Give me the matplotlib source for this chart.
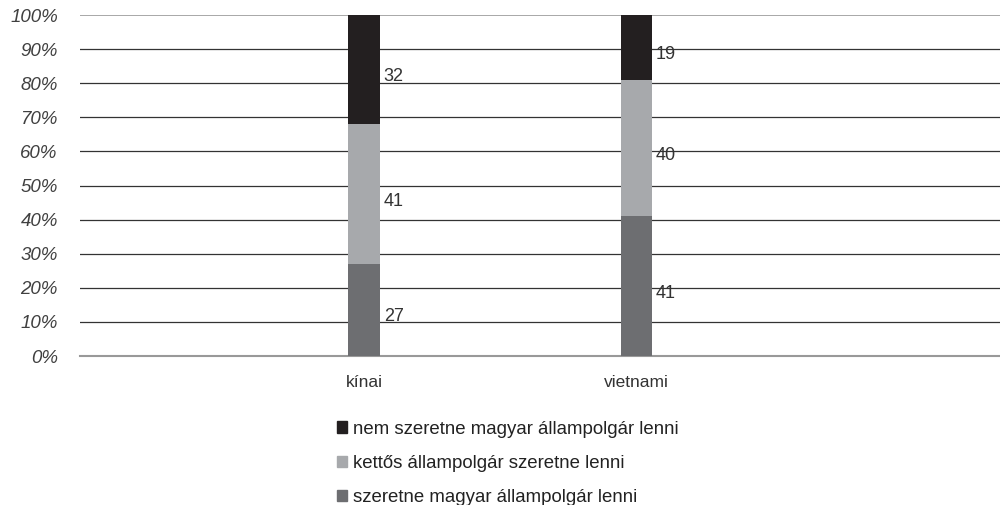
import matplotlib.pyplot as plt
from matplotlib.patches import Patch

# data
categories = ["kínai", "vietnami"]
szeretne = [27, 41]
kettos = [41, 40]
nem = [32, 19]
series_labels = ["szeretne magyar állampolgár lenni",
                 "kettős állampolgár szeretne lenni",
                 "nem szeretne magyar állampolgár lenni"]
yticks = [0, 10, 20, 30, 40, 50, 60, 70, 80, 90, 100]

colors = ["#6d6e71", "#a7a9ac", "#231f20"]

plt.rcParams['font.family'] = ['Liberation Sans', 'DejaVu Sans']

fig = plt.figure(figsize=(10, 5.05), dpi=100)
ax = fig.add_axes([0.08, 0.295, 0.92, 0.675])

x = list(range(len(categories)))
width = 0.114
bottoms = [0] * len(categories)
for vals, col in zip([szeretne, kettos, nem], colors):
    ax.bar(x, vals, width, bottom=bottoms, color=col, zorder=3)
    for xi, v, b in zip(x, vals, bottoms):
        ax.annotate(str(v), (xi + width / 2, b + v / 2), xytext=(3, -5),
                    textcoords='offset points', va='center', ha='left',
                    fontsize=13, color='#333333', zorder=4)
    bottoms = [b + v for b, v in zip(bottoms, vals)]

ax.set_xlim(-1.044, 2.338)
ax.set_ylim(0, 100)
ax.set_yticks(yticks)
ax.set_yticklabels([f"{t}%" for t in yticks], fontsize=13.5, style='italic',
                   color='#404040')
ax.set_xticks(x)
ax.set_xticklabels(categories, fontsize=12.5, color='#333333')
ax.tick_params(axis='y', length=0, pad=16)
ax.tick_params(axis='x', length=0, pad=14)

for s in ['top', 'right', 'left']:
    ax.spines[s].set_visible(False)
ax.spines['bottom'].set_color('#999999')
ax.spines['bottom'].set_linewidth(1.5)

for t in yticks[1:]:
    c = '#999999' if t == 100 else '#333333'
    ax.axhline(t, color=c, lw=1.2 if t == 100 else 0.9, zorder=1)

handles = [Patch(color=c) for c in colors][::-1]
fig.legend(handles, series_labels[::-1], loc='upper left',
           bbox_to_anchor=(0.337, 0.167), frameon=False, fontsize=13.4,
           handlelength=0.55, handleheight=0.55, handletextpad=0.3,
           labelspacing=0.93, borderpad=0, borderaxespad=0,
           labelcolor='#222222')

fig.savefig("out.png", dpi=100)
